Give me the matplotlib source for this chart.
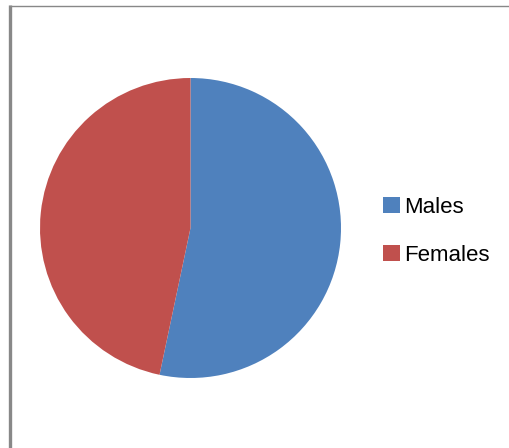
import matplotlib
matplotlib.use("Agg")
import matplotlib.pyplot as plt
from matplotlib.lines import Line2D

labels = ["Males", "Females"]
shares = [53.3, 46.7]
colors = ["#4F81BD", "#C0504D"]

W, H = 509, 448
fig = plt.figure(figsize=(W / 100, H / 100), dpi=100)
fig.patch.set_facecolor("white")

# pie sits in a square box: x 40..341, y 78..378 (pixels from top)
ax = fig.add_axes([40 / W, (H - 378) / H, 301 / W, 300 / H])
wedges, _ = ax.pie(shares, colors=colors, startangle=90, counterclock=False,
                   wedgeprops=dict(linewidth=0))
ax.set_xlim(-1, 1)
ax.set_ylim(-1, 1)
ax.set_aspect("auto")
ax.axis("off")

# chart-area border: thick left edge, thin top edge
fig.add_artist(Line2D([10 / W, 10 / W], [0, (H - 5) / H], transform=fig.transFigure,
                      color="#888888", linewidth=2.4, solid_capstyle="butt"))
fig.add_artist(Line2D([9 / W, 1], [(H - 6) / H, (H - 6) / H], transform=fig.transFigure,
                      color="#888888", linewidth=1.0, solid_capstyle="butt"))

fs = 16
fig.legend(wedges, labels, loc="upper left",
           bbox_to_anchor=(383 / W, (H - 197) / H),
           frameon=False, borderpad=0, borderaxespad=0,
           handlelength=0.75, handleheight=0.7, handletextpad=0.2,
           labelspacing=1.2,
           prop={"family": "Liberation Sans", "size": fs})

fig.savefig("out.png", dpi=100, facecolor="white")
